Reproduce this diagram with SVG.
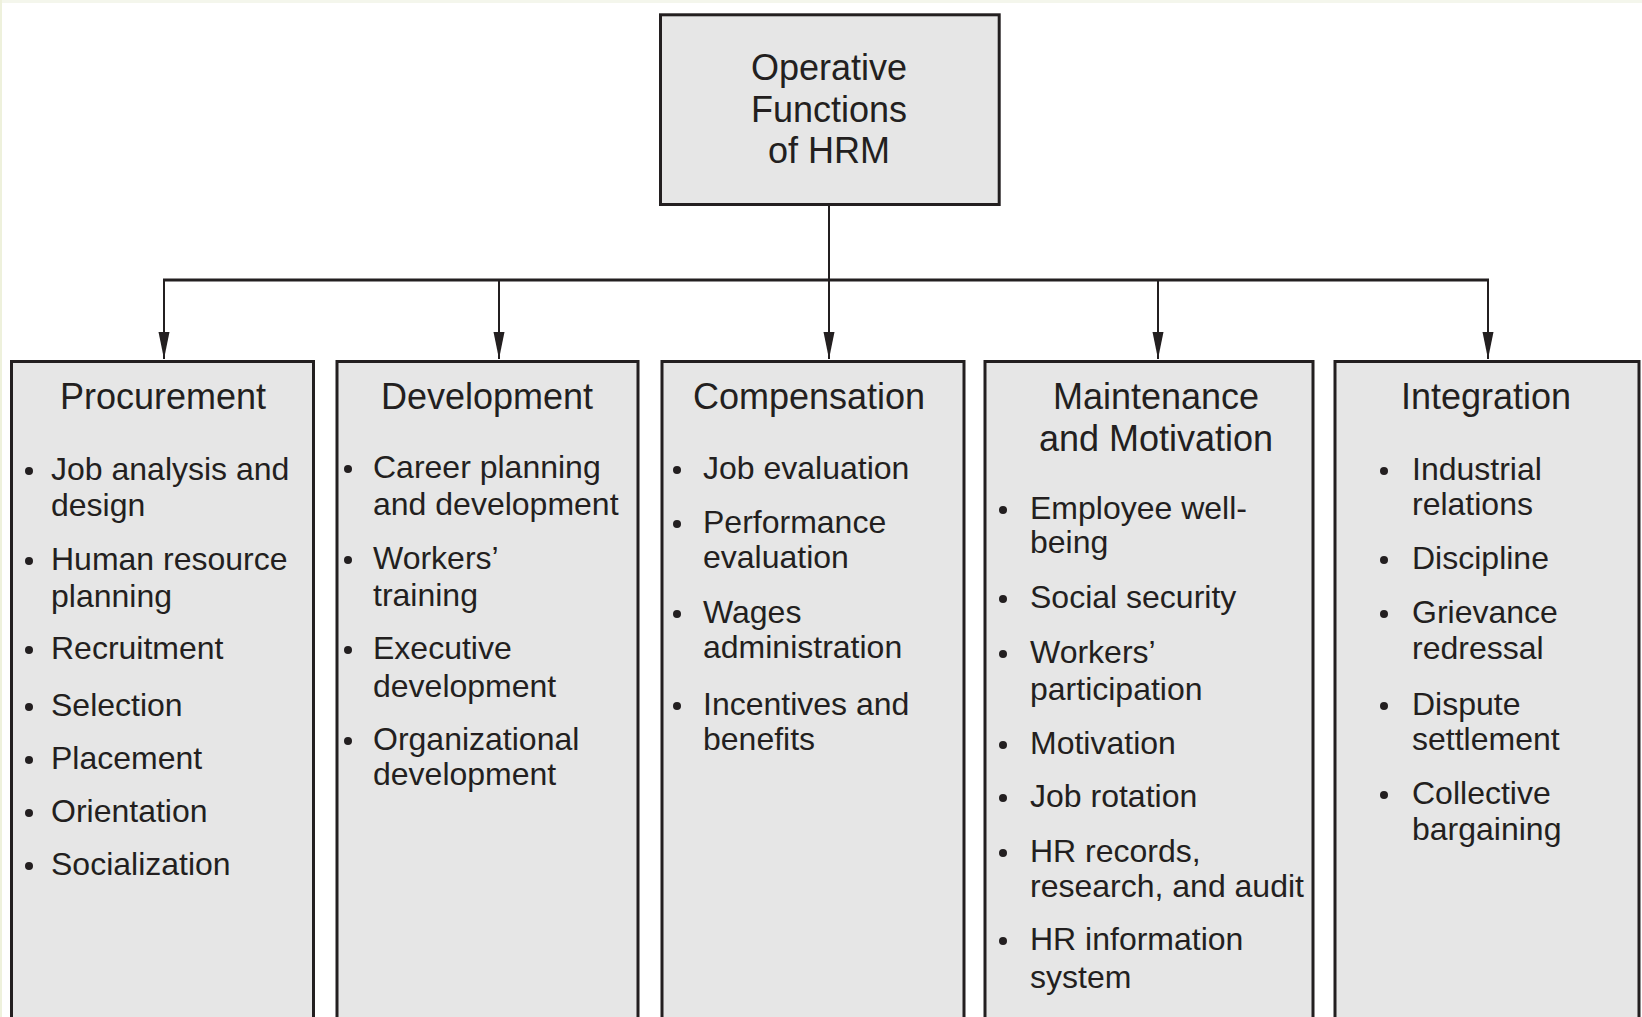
<svg xmlns="http://www.w3.org/2000/svg" width="1642" height="1017" viewBox="0 0 1642 1017">
<style>
.box{fill:#e6e6e6;stroke:#231f20;stroke-width:3}
.t{font-family:"Liberation Sans",Arial,Helvetica,sans-serif;fill:#231f20}
.ttl{font-size:36px;text-anchor:middle}
.it{font-size:32px}
.b{fill:#231f20}
.ln{stroke:#231f20;fill:none}
</style>
<defs>
<marker id="ah" markerUnits="userSpaceOnUse" markerWidth="28" markerHeight="12" refX="27" refY="6" orient="auto">
<path d="M0,0.5 L27,6 L0,11.5 z" fill="#231f20"/>
</marker>
</defs>
<rect x="0" y="0" width="1642" height="1017" fill="#ffffff"/>
<rect x="0" y="0" width="1642" height="3" fill="#f4f6ec"/>
<rect x="0" y="0" width="2" height="1017" fill="#eef1dc"/>

<g id="connectors">
<line class="ln" x1="829" y1="206" x2="829" y2="280" stroke-width="2"/>
<line class="ln" x1="163" y1="280" x2="1489" y2="280" stroke-width="3"/>
<line class="ln" x1="164" y1="280" x2="164" y2="359" stroke-width="2" marker-end="url(#ah)"/>
<line class="ln" x1="499" y1="280" x2="499" y2="359" stroke-width="2" marker-end="url(#ah)"/>
<line class="ln" x1="829" y1="280" x2="829" y2="359" stroke-width="2" marker-end="url(#ah)"/>
<line class="ln" x1="1158" y1="280" x2="1158" y2="359" stroke-width="2" marker-end="url(#ah)"/>
<line class="ln" x1="1488" y1="280" x2="1488" y2="359" stroke-width="2" marker-end="url(#ah)"/>
</g>

<g id="root">
<rect class="box" x="660.5" y="14.8" width="338.7" height="189.7"/>
<text class="t ttl" x="829" y="80">Operative</text>
<text class="t ttl" x="829" y="122">Functions</text>
<text class="t ttl" x="829" y="163">of HRM</text>
</g>

<g id="procurement">
<rect class="box" x="11.5" y="361.5" width="302" height="700"/>
<text class="t ttl" x="163" y="409">Procurement</text>
<g class="b">
<circle cx="29" cy="471" r="4"/><circle cx="29" cy="561" r="4"/><circle cx="29" cy="650" r="4"/><circle cx="29" cy="707" r="4"/><circle cx="29" cy="760" r="4"/><circle cx="29" cy="813" r="4"/><circle cx="29" cy="866" r="4"/>
</g>
<text class="t it" x="51" y="480">Job analysis and</text>
<text class="t it" x="51" y="516">design</text>
<text class="t it" x="51" y="570">Human resource</text>
<text class="t it" x="51" y="607">planning</text>
<text class="t it" x="51" y="659">Recruitment</text>
<text class="t it" x="51" y="716">Selection</text>
<text class="t it" x="51" y="769">Placement</text>
<text class="t it" x="51" y="822">Orientation</text>
<text class="t it" x="51" y="875">Socialization</text>
</g>

<g id="development">
<rect class="box" x="337" y="361.5" width="301" height="700"/>
<text class="t ttl" x="487" y="409">Development</text>
<g class="b">
<circle cx="348" cy="469" r="4"/><circle cx="348" cy="560" r="4"/><circle cx="348" cy="650" r="4"/><circle cx="348" cy="741" r="4"/>
</g>
<text class="t it" x="373" y="478">Career planning</text>
<text class="t it" x="373" y="515">and development</text>
<text class="t it" x="373" y="569">Workers’</text>
<text class="t it" x="373" y="606">training</text>
<text class="t it" x="373" y="659">Executive</text>
<text class="t it" x="373" y="697">development</text>
<text class="t it" x="373" y="750">Organizational</text>
<text class="t it" x="373" y="785">development</text>
</g>

<g id="compensation">
<rect class="box" x="662" y="361.5" width="302" height="700"/>
<text class="t ttl" x="809" y="409">Compensation</text>
<g class="b">
<circle cx="677" cy="470" r="4"/><circle cx="677" cy="524" r="4"/><circle cx="677" cy="614" r="4"/><circle cx="677" cy="706" r="4"/>
</g>
<text class="t it" x="703" y="479">Job evaluation</text>
<text class="t it" x="703" y="533">Performance</text>
<text class="t it" x="703" y="568">evaluation</text>
<text class="t it" x="703" y="623">Wages</text>
<text class="t it" x="703" y="658">administration</text>
<text class="t it" x="703" y="715">Incentives and</text>
<text class="t it" x="703" y="750">benefits</text>
</g>

<g id="maintenance">
<rect class="box" x="985" y="361.5" width="328" height="700"/>
<text class="t ttl" x="1156" y="409">Maintenance</text>
<text class="t ttl" x="1156" y="451">and Motivation</text>
<g class="b">
<circle cx="1003" cy="510" r="4"/><circle cx="1003" cy="599" r="4"/><circle cx="1003" cy="654" r="4"/><circle cx="1003" cy="745" r="4"/><circle cx="1003" cy="798" r="4"/><circle cx="1003" cy="853" r="4"/><circle cx="1003" cy="941" r="4"/>
</g>
<text class="t it" x="1030" y="519">Employee well-</text>
<text class="t it" x="1030" y="553">being</text>
<text class="t it" x="1030" y="608">Social security</text>
<text class="t it" x="1030" y="663">Workers’</text>
<text class="t it" x="1030" y="700">participation</text>
<text class="t it" x="1030" y="754">Motivation</text>
<text class="t it" x="1030" y="807">Job rotation</text>
<text class="t it" x="1030" y="862">HR records,</text>
<text class="t it" x="1030" y="897">research, and audit</text>
<text class="t it" x="1030" y="950">HR information</text>
<text class="t it" x="1030" y="988">system</text>
</g>

<g id="integration">
<rect class="box" x="1335" y="361.5" width="304" height="700"/>
<text class="t ttl" x="1486" y="409">Integration</text>
<g class="b">
<circle cx="1384" cy="471" r="4"/><circle cx="1384" cy="560" r="4"/><circle cx="1384" cy="614" r="4"/><circle cx="1384" cy="706" r="4"/><circle cx="1384" cy="795" r="4"/>
</g>
<text class="t it" x="1412" y="480">Industrial</text>
<text class="t it" x="1412" y="515">relations</text>
<text class="t it" x="1412" y="569">Discipline</text>
<text class="t it" x="1412" y="623">Grievance</text>
<text class="t it" x="1412" y="659">redressal</text>
<text class="t it" x="1412" y="715">Dispute</text>
<text class="t it" x="1412" y="750">settlement</text>
<text class="t it" x="1412" y="804">Collective</text>
<text class="t it" x="1412" y="840">bargaining</text>
</g>
</svg>
